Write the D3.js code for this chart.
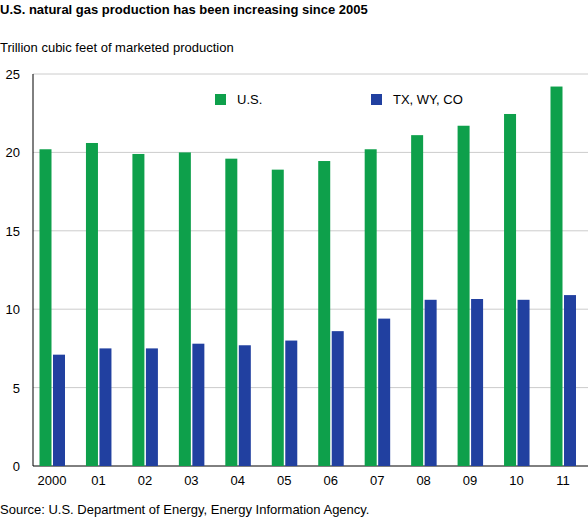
<!DOCTYPE html>
<html><head><meta charset="utf-8">
<script src="https://cdn.jsdelivr.net/npm/d3@7"></script>
<style>body{margin:0;background:#fff;font-family:Arial,"Liberation Sans",sans-serif}</style>
</head><body><svg id="c" width="588" height="522"></svg>
<script>
const years=["2000","01","02","03","04","05","06","07","08","09","10","11"];
const usValues=[20.2,20.6,19.9,20.0,19.6,18.9,19.45,20.2,21.1,21.7,22.45,24.2];
const txValues=[7.1,7.5,7.5,7.8,7.7,8.0,8.6,9.4,10.6,10.65,10.6,10.9];
const yTicks=[0,5,10,15,20,25];
const seriesNames=["U.S.","TX, WY, CO"];
const colors=["#0ea04b","#2140a0"];
const svg=d3.select("#c");
const L=33,R=588,T=74,B=466;
const x=d3.scalePoint().domain(years).range([52,563]);
const y=d3.scaleLinear().domain([0,25]).range([B,T]);
svg.append("text").attr("x",0).attr("y",14).attr("font-size",13).attr("font-weight","bold").text("U.S. natural gas production has been increasing since 2005");
svg.append("text").attr("x",0).attr("y",52).attr("font-size",13).text("Trillion cubic feet of marketed production");
svg.append("text").attr("x",0).attr("y",514).attr("font-size",13).text("Source: U.S. Department of Energy, Energy Information Agency.");
svg.append("g").selectAll("line").data(yTicks).join("line").attr("x1",L).attr("x2",R).attr("y1",d=>y(d)).attr("y2",d=>y(d)).attr("stroke",d=>d===0?"#000":"#ccc");
svg.append("g").selectAll("text").data(yTicks).join("text").attr("x",L-13).attr("y",d=>y(d)+5).attr("text-anchor","end").attr("font-size",13).text(d=>d);
svg.append("line").attr("x1",L).attr("x2",L).attr("y1",T).attr("y2",B).attr("stroke","#000");
const data=[usValues,txValues];
data.forEach((vals,i)=>{
 svg.append("g").selectAll("rect").data(years).join("rect")
  .attr("x",d=>x(d)-12.5+i*13.5).attr("width",12)
  .attr("y",(d,j)=>y(vals[j])).attr("height",(d,j)=>B-y(vals[j])).attr("fill",colors[i]);
});
svg.append("g").selectAll("text").data(years).join("text").attr("x",d=>x(d)).attr("y",B+19).attr("text-anchor","middle").attr("font-size",13).text(d=>d);
const lx=[215,371];
seriesNames.forEach((n,i)=>{
 svg.append("rect").attr("x",lx[i]).attr("y",94).attr("width",11).attr("height",11).attr("fill",colors[i]);
 svg.append("text").attr("x",lx[i]+22).attr("y",104).attr("font-size",13).text(n);
});
</script></body></html>
